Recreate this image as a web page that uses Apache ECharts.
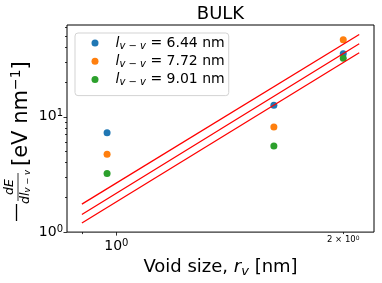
<!DOCTYPE html>
<html><head><meta charset="utf-8">
<script src="https://cdn.jsdelivr.net/npm/echarts@6/dist/echarts.min.js"></script>
<style>html,body{margin:0;padding:0;background:#fff}#c{width:382px;height:283px}</style>
</head><body><div id="c"></div>
<script>
// ---- data ----
const voidSize = [0.972, 1.618, 2.0];
const seriesNames = ['6.44', '7.72', '9.01'];
const dE_644 = [7.27, 12.6, 35.3];
const dE_772 = [4.74, 8.18, 46.7];
const dE_901 = [3.22, 5.57, 32.2];
const fitX = [0.9, 2.1];
const fit1 = [1.75, 51.8];
const fit2 = [1.42, 43.0];
const fit3 = [1.20, 36.0];
const xMajorTicks = [1];
const xMajorExp = ['0'];
const xMinorTicks = [0.9, 2];
const xMinorLabelTicks = [2];
const xMinorLabelText = ['2 × 10'];
const xMinorLabelExp = ['0'];
const yMajorTicks = [1, 10];
const yMajorExp = ['0', '1'];
const yMinorTicks = [2, 3, 4, 5, 6, 7, 8, 9, 20, 30, 40, 50, 60];
const colors = ['#1f77b4', '#ff7f0e', '#2ca02c'];

const FF = 'DejaVu Sans';
const xMin = 0.86, xMax = 2.197, yMin = 1, yMax = 62.6;
const seriesVals = [dE_644, dE_772, dE_901];
const fits = [fit1, fit2, fit3];

const chart = echarts.init(document.getElementById('c'), null, {renderer: 'canvas'});
const supRich = {
  b: {fontSize: 14, lineHeight: 16, fontFamily: FF, color: '#000'},
  p: {fontSize: 10, lineHeight: 10, verticalAlign: 'top', fontFamily: FF, color: '#000'},
  c: {fontSize: 8.5, lineHeight: 10, fontFamily: FF, color: '#000'},
  q: {fontSize: 6, lineHeight: 6, verticalAlign: 'top', fontFamily: FF, color: '#000'}
};
function majorFmt(ticks, exps) {
  return v => { const i = ticks.findIndex(t => Math.abs(t - v) < 1e-6); return i < 0 ? '' : '{b|10}{p|' + exps[i] + '}'; };
}
function minorFmt(v) {
  const i = xMinorLabelTicks.findIndex(t => Math.abs(t - v) < 1e-6);
  return i < 0 ? '' : '{c|' + xMinorLabelText[i] + '}{q|' + xMinorLabelExp[i] + '}';
}
const tickLine = {color: '#000', width: 0.8};

const series = [];
seriesNames.forEach((n, k) => {
  series.push({
    type: 'scatter', name: n, xAxisIndex: 0, yAxisIndex: 0,
    data: voidSize.map((x, i) => [x, seriesVals[k][i]]),
    symbol: 'circle', symbolSize: 7, itemStyle: {color: colors[k], opacity: 1}, z: 2
  });
});
fits.forEach((f, k) => {
  series.push({
    type: 'line', name: 'fit' + k, xAxisIndex: 0, yAxisIndex: 0,
    data: fitX.map((x, i) => [x, f[i]]),
    symbol: 'none', lineStyle: {color: '#ff0000', width: 1.3}, z: 3, silent: true
  });
});

const option = {
  animation: false,
  textStyle: {fontFamily: FF},
  title: {text: 'BULK', left: 220.5, textAlign: 'center', top: 5, padding: 0,
    textStyle: {fontSize: 18, fontWeight: 'normal', color: '#000', fontFamily: FF}},
  grid: {left: 67, right: 8, top: 25, bottom: 46, show: true, borderColor: '#000', borderWidth: 1, containLabel: false},
  legend: {
    data: seriesNames, orient: 'vertical', left: 75, top: 33, width: 153,
    padding: [3, 4, 8, 16.5], itemGap: 3.3, itemWidth: 7, itemHeight: 7, icon: 'circle', itemTextGap: 5,
    borderColor: '#d3d3d3', borderWidth: 1, borderRadius: 3, backgroundColor: 'rgba(255,255,255,0.8)',
    formatter: n => '{sp| }{i|l}{s|v − v}{t| = ' + n + ' nm}',
    textStyle: {rich: {
      sp: {width: 12, fontSize: 14, lineHeight: 16},
      i: {fontSize: 14, fontStyle: 'italic', lineHeight: 16, fontFamily: FF, color: '#000'},
      s: {fontSize: 10, fontStyle: 'italic', lineHeight: 10, verticalAlign: 'bottom', fontFamily: FF, color: '#000'},
      t: {fontSize: 14, lineHeight: 16, fontFamily: FF, color: '#000'}
    }}
  },
  xAxis: [
    {type: 'log', min: xMin, max: xMax, position: 'bottom', axisLine: {show: false}, splitLine: {show: false},
      axisTick: {show: true, customValues: xMajorTicks, length: 3.5, lineStyle: tickLine},
      axisLabel: {customValues: xMajorTicks, margin: 6, formatter: majorFmt(xMajorTicks, xMajorExp), rich: supRich},
      name: '{t|Void size, }{i|r}{s|v}{t| [nm]}', nameLocation: 'middle', nameGap: 21,
      nameTextStyle: {rich: {
        t: {fontSize: 18, lineHeight: 22, fontFamily: FF, color: '#000'},
        i: {fontSize: 18, lineHeight: 22, fontStyle: 'italic', fontFamily: FF, color: '#000'},
        s: {fontSize: 13, lineHeight: 12, fontStyle: 'italic', verticalAlign: 'bottom', fontFamily: FF, color: '#000'}
      }}},
    {type: 'log', min: xMin, max: xMax, position: 'bottom', axisLine: {show: false}, splitLine: {show: false},
      axisTick: {show: true, customValues: xMinorTicks, length: 2, lineStyle: tickLine},
      axisLabel: {customValues: xMinorLabelTicks, margin: 3, formatter: minorFmt, rich: supRich}}
  ],
  yAxis: [
    {type: 'log', min: yMin, max: yMax, position: 'left', axisLine: {show: false}, splitLine: {show: false},
      axisTick: {show: true, customValues: yMajorTicks, length: 3.5, lineStyle: tickLine},
      axisLabel: {customValues: yMajorTicks, margin: 4, formatter: majorFmt(yMajorTicks, yMajorExp), rich: supRich}},
    {type: 'log', min: yMin, max: yMax, position: 'left', axisLine: {show: false}, splitLine: {show: false},
      axisTick: {show: true, customValues: yMinorTicks, length: 2, lineStyle: tickLine},
      axisLabel: {show: false}}
  ],
  graphic: [{
    type: 'group', x: 0, y: 222, rotation: Math.PI / 2, silent: true,
    children: [
      {type: 'line', shape: {x1: 1, y1: 16.5, x2: 18, y2: 16.5}, style: {stroke: '#000', lineWidth: 1.3}},
      {type: 'text', x: 35, y: 10, style: {text: 'dE', font: 'italic 12.5px "DejaVu Sans"', align: 'center', verticalAlign: 'middle', fill: '#000'}},
      {type: 'line', shape: {x1: 21, y1: 18, x2: 49, y2: 18}, style: {stroke: '#000', lineWidth: 0.8}},
      {type: 'text', x: 35, y: 25.5, style: {text: '{i|dl}{s|v − v}', align: 'center', verticalAlign: 'middle',
        rich: {i: {fontSize: 12.5, fontStyle: 'italic', lineHeight: 14, fontFamily: FF, fill: '#000'},
               s: {fontSize: 8.5, fontStyle: 'italic', lineHeight: 8, verticalAlign: 'bottom', fontFamily: FF, fill: '#000'}}}},
      {type: 'text', x: 56, y: 21.5, style: {text: '{m|[eV nm}{p|−1}{m|]}', align: 'left', verticalAlign: 'middle',
        rich: {m: {fontSize: 21, lineHeight: 25, fontFamily: FF, fill: '#000'},
               p: {fontSize: 14, lineHeight: 13, verticalAlign: 'top', fontFamily: FF, fill: '#000'}}}}
    ]
  }],
  series: series
};
chart.setOption(option);
</script></body></html>
